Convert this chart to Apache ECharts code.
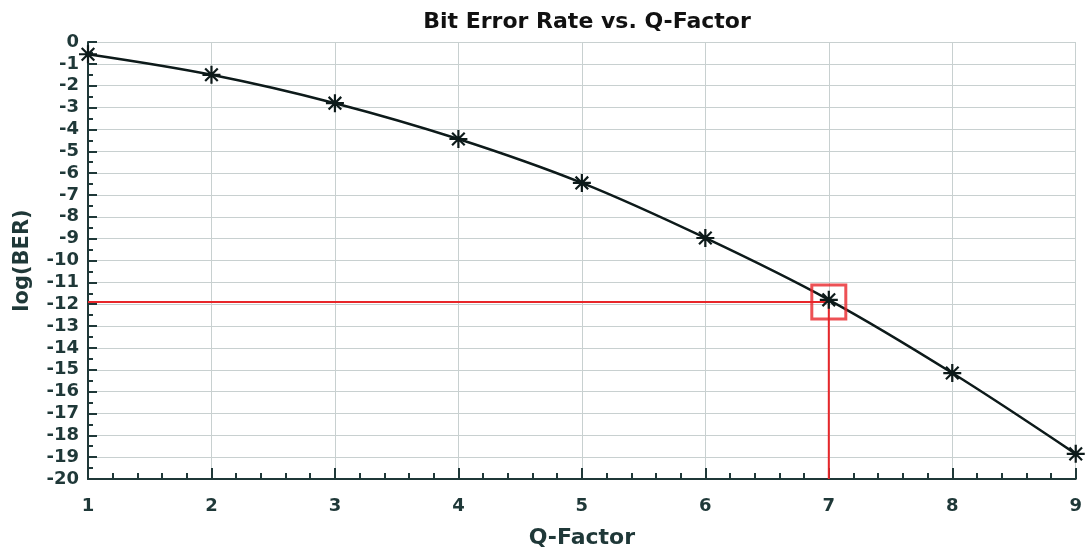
<!DOCTYPE html>
<html><head><meta charset="utf-8">
<script src="https://cdn.jsdelivr.net/npm/echarts@6/dist/echarts.min.js"></script>
<style>html,body{margin:0;padding:0;background:#fff}#c{width:1085px;height:555px}</style>
</head><body><div id="c"></div>
<script>
const qFactor = [1, 2, 3, 4, 5, 6, 7, 8, 9];
const logBER = [-0.56, -1.5, -2.8, -4.44, -6.45, -8.97, -11.8, -15.15, -18.85];
const markerQ = 7;
const markerLog = -11.9;
const yMin = -20, yMax = 0;

const axisColor = '#1f3838';
const font = '"DejaVu Sans", sans-serif';
const star = 'path://M0,-10L0,10M-10,0L10,0M-7,-7L7,7M-7,7L7,-7';

const chart = echarts.init(document.getElementById('c'));
chart.setOption({
  animation: false,
  title: {
    text: 'Bit Error Rate vs. Q-Factor',
    left: 582, top: 6, textAlign: 'center',
    textStyle: { fontFamily: font, fontWeight: 'bold', fontSize: 22, color: '#111' }
  },
  grid: { left: 88, right: 8, top: 42, bottom: 76 },
  xAxis: {
    type: 'value', min: 1, max: 9, interval: 1,
    name: 'Q-Factor', nameLocation: 'middle', nameGap: 48,
    nameTextStyle: { fontFamily: font, fontWeight: 'bold', fontSize: 22, color: axisColor },
    axisLine: { onZero: false, lineStyle: { color: axisColor, width: 2 } },
    axisTick: { inside: true, length: 11, lineStyle: { color: axisColor, width: 2 } },
    minorTick: { show: true, splitNumber: 5, length: 6, lineStyle: { color: axisColor, width: 2 } },
    axisLabel: { margin: 18, fontFamily: font, fontWeight: 'bold', fontSize: 18, color: axisColor },
    splitLine: { show: true, lineStyle: { color: '#c8d0d0', width: 1 } }
  },
  yAxis: {
    type: 'value', min: yMin, max: yMax, interval: 1,
    name: 'log(BER)', nameLocation: 'middle', nameGap: 55, nameRotate: 90,
    nameTextStyle: { fontFamily: font, fontWeight: 'bold', fontSize: 21, color: axisColor },
    axisLine: { show: true, onZero: false, lineStyle: { color: axisColor, width: 2 } },
    axisTick: { show: true, inside: true, length: 9, lineStyle: { color: axisColor, width: 2 } },
    minorTick: { show: true, splitNumber: 2, length: 5, lineStyle: { color: axisColor, width: 2 } },
    axisLabel: { margin: 9, fontFamily: font, fontWeight: 'bold', fontSize: 18, color: axisColor },
    splitLine: { show: true, lineStyle: { color: '#c8d0d0', width: 1 } }
  },
  series: [
    {
      type: 'line',
      data: [[qFactor[0], markerLog], [markerQ, markerLog]],
      symbol: 'none', lineStyle: { color: '#e8262a', width: 2 }, z: 3
    },
    {
      type: 'line',
      data: [[markerQ, markerLog], [markerQ, yMin]],
      symbol: 'none', lineStyle: { color: '#e8262a', width: 2 }, z: 3
    },
    {
      type: 'line',
      data: qFactor.map((q, i) => [q, logBER[i]]),
      smooth: 0.35,
      lineStyle: { color: '#0d1a1a', width: 2.5 },
      symbol: star, symbolSize: 18,
      itemStyle: { color: 'rgba(0,0,0,0)', borderColor: '#0d1a1a', borderWidth: 2.2 },
      z: 4
    },
    {
      type: 'scatter',
      data: [[markerQ, markerLog]],
      symbol: 'rect', symbolSize: 34,
      itemStyle: { color: 'rgba(0,0,0,0)', borderColor: '#e8262a', borderWidth: 3 },
      z: 5
    }
  ]
});
</script></body></html>
